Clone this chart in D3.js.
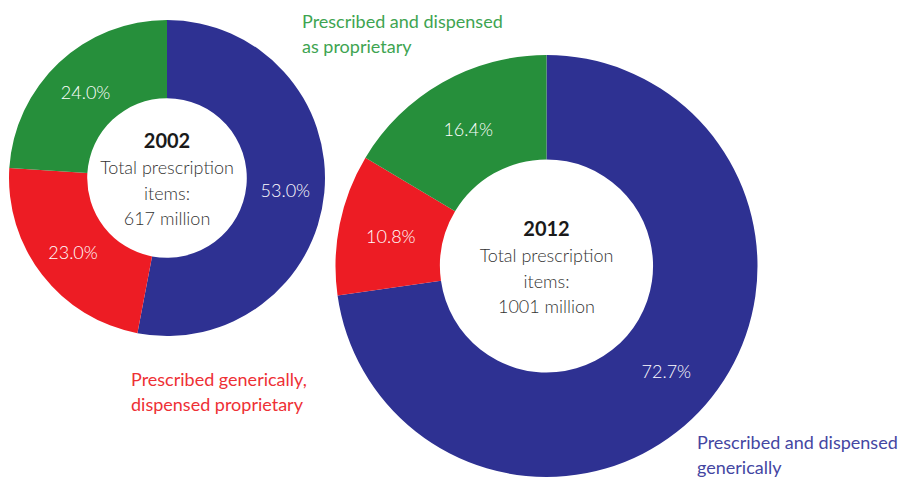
<!DOCTYPE html>
<html>
<head>
<meta charset="utf-8">
<script src="https://cdn.jsdelivr.net/npm/d3@7"></script>
<style>
  body { margin: 0; background: #fff; }
  svg { display: block; font-family: Lato, "Open Sans", sans-serif; }
  .pct { fill: #fff; font-weight: 300; font-size: 18px; }
  .centre { fill: #333; font-weight: 300; font-size: 18px; }
  .year { fill: #1a1a1a; font-weight: 700; font-size: 20px; }
  .key { font-size: 18px; font-weight: 400; }
</style>
</head>
<body>
<script>
'use strict';

// categories, in clockwise order from 12 o'clock
var categories = ['generic', 'genericProprietary', 'proprietary'];
var colours = ['#2e3192', '#ed1c24', '#268f3b'];
var keyColours = ['#4446a2', '#ee3035', '#3ea451'];
var keyLabels = [
  ['Prescribed and dispensed', 'generically'],
  ['Prescribed generically,', 'dispensed proprietary'],
  ['Prescribed and dispensed', 'as proprietary']
];

var years = ['2002', '2012'];
var totals = ['617 million', '1001 million'];
var shares2002 = [53.0, 23.0, 24.0];
var shares2012 = [72.7, 10.8, 16.4];

var width = 898, height = 479;

var svg = d3.select('body').append('svg')
    .attr('width', width)
    .attr('height', height);

var donuts = [
  {year: years[0], total: totals[0], values: shares2002, cx: 167, cy: 178, r: 158},
  {year: years[1], total: totals[1], values: shares2012, cx: 546.5, cy: 266, r: 211}
];

var pie = d3.pie().sort(null).value(function (d) { return d; });

donuts.forEach(function (donut) {
  var arc = d3.arc()
      .innerRadius(donut.r * 0.505)
      .outerRadius(donut.r);

  var g = svg.append('g')
      .attr('transform', 'translate(' + donut.cx + ',' + donut.cy + ')');

  var slices = pie(donut.values);

  g.selectAll('path')
      .data(slices)
      .enter().append('path')
      .attr('d', arc)
      .attr('fill', function (d, i) { return colours[i]; });

  g.selectAll('text.pct')
      .data(slices)
      .enter().append('text')
      .attr('class', 'pct')
      .attr('text-anchor', 'middle')
      .attr('dy', '0.45em')
      .attr('transform', function (d) { return 'translate(' + arc.centroid(d) + ')'; })
      .text(function (d) { return d.value.toFixed(1) + '%'; });

  // centre text
  var lines = [donut.year, 'Total prescription', 'items:', donut.total];
  g.selectAll('text.centre')
      .data(lines)
      .enter().append('text')
      .attr('class', function (d, i) { return i === 0 ? 'year' : 'centre'; })
      .attr('text-anchor', 'middle')
      .attr('y', function (d, i) { return -30 + i * 25.8; })
      .text(function (d) { return d; });
});

// key labels
var keyPos = [[697, 449], [131, 386], [302, 28]];
keyLabels.forEach(function (lines, i) {
  var t = svg.append('text')
      .attr('class', 'key')
      .attr('fill', keyColours[i])
      .attr('x', keyPos[i][0])
      .attr('y', keyPos[i][1]);
  lines.forEach(function (line, j) {
    t.append('tspan')
        .attr('x', keyPos[i][0])
        .attr('dy', j === 0 ? 0 : 24.5)
        .text(line);
  });
});
</script>
</body>
</html>
